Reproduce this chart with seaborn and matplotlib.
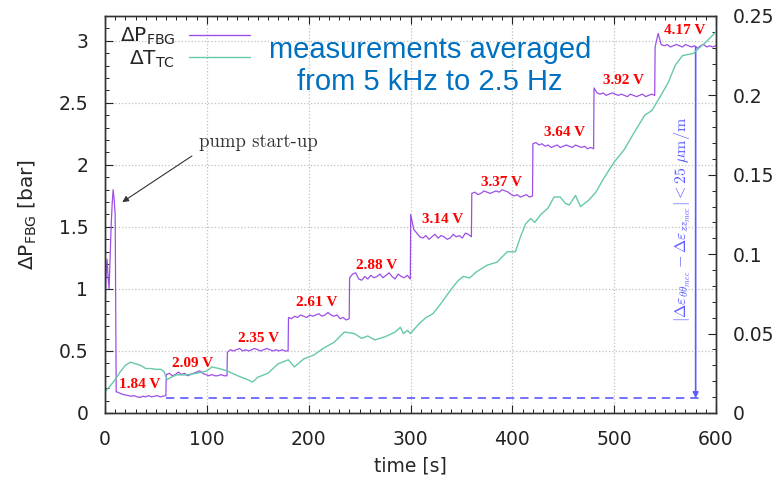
import numpy as np
import pandas as pd
import matplotlib
matplotlib.use('Agg')
import matplotlib.pyplot as plt
import seaborn as sns
from matplotlib.ticker import MultipleLocator

sns.set_style('white')
plt.rcParams['font.family'] = ['DejaVu Sans']

# --- data ---
startup_t = [0, 1, 2, 3, 4, 5, 6, 7, 8, 9, 10, 11]
startup_p = [0.85, 1.1, 1.24, 1.1, 1.0, 1.25, 1.5, 1.68, 1.8, 1.72, 1.6, 0.17]

step_edges = [11.5, 60, 120, 180, 240, 300, 360, 420, 480, 540, 600]
step_volts = ['1.84 V', '2.09 V', '2.35 V', '2.61 V', '2.88 V',
              '3.14 V', '3.37 V', '3.64 V', '3.92 V', '4.17 V']
plateaus = [
    [0.17, 0.16, 0.15, 0.145, 0.14, 0.135, 0.14, 0.13, 0.125, 0.135, 0.13, 0.14, 0.13, 0.135, 0.14, 0.13, 0.135, 0.14],
    [0.31, 0.32, 0.30, 0.31, 0.33, 0.31, 0.32, 0.30, 0.31, 0.32, 0.33, 0.34, 0.32, 0.31, 0.30, 0.31, 0.30, 0.30, 0.31, 0.30, 0.30],
    [0.49, 0.51, 0.50, 0.51, 0.52, 0.50, 0.51, 0.50, 0.51, 0.52, 0.51, 0.50, 0.51, 0.52, 0.51, 0.50, 0.51, 0.50, 0.51, 0.50, 0.50],
    [0.77, 0.76, 0.78, 0.77, 0.79, 0.78, 0.77, 0.79, 0.78, 0.79, 0.80, 0.78, 0.79, 0.81, 0.79, 0.78, 0.79, 0.76, 0.77, 0.75, 0.76],
    [1.09, 1.12, 1.13, 1.08, 1.07, 1.10, 1.08, 1.11, 1.09, 1.10, 1.12, 1.09, 1.11, 1.13, 1.10, 1.08, 1.12, 1.10, 1.09, 1.11, 1.08],
    [1.60, 1.48, 1.45, 1.42, 1.41, 1.43, 1.40, 1.42, 1.44, 1.41, 1.43, 1.42, 1.40, 1.41, 1.44, 1.42, 1.43, 1.41, 1.45, 1.44, 1.42],
    [1.77, 1.78, 1.76, 1.77, 1.79, 1.78, 1.77, 1.78, 1.79, 1.78, 1.80, 1.79, 1.78, 1.76, 1.75, 1.76, 1.74, 1.75, 1.76, 1.74, 1.75],
    [2.17, 2.18, 2.16, 2.17, 2.15, 2.16, 2.14, 2.15, 2.16, 2.14, 2.15, 2.16, 2.15, 2.14, 2.16, 2.15, 2.14, 2.15, 2.13, 2.14, 2.13],
    [2.62, 2.58, 2.57, 2.58, 2.56, 2.57, 2.58, 2.57, 2.56, 2.57, 2.56, 2.55, 2.57, 2.56, 2.55, 2.56, 2.57, 2.55, 2.56, 2.57, 2.56],
    [2.95, 3.06, 2.97, 2.96, 2.97, 2.95, 2.96, 2.97, 2.96, 2.95, 2.97, 2.96, 2.95, 2.96, 2.94, 2.96, 2.97, 2.95, 2.96, 2.95, 2.96],
]
# label positions (time, bar) for each voltage
volt_t = [34, 86, 151, 208, 267, 332, 389, 451, 509, 569]
volt_y = [0.23, 0.40, 0.60, 0.89, 1.19, 1.56, 1.86, 2.26, 2.68, 3.08]

tc_t = [0, 5, 10, 15, 20, 25, 30, 35, 40, 45, 50, 55, 58, 61, 65, 70, 80, 90, 100, 105, 112,
        120, 130, 140, 145, 150, 160, 170, 180, 186, 195, 205, 215, 225, 235, 245, 252, 258,
        265, 275, 285, 290, 293, 297, 300, 308, 315, 322, 330, 340, 347, 352, 358, 365, 375,
        385, 395, 403, 408, 413, 418, 422, 428, 435, 441, 447, 452, 456, 462, 467, 475, 482,
        490, 500, 510, 520, 530, 537, 545, 553, 560, 567, 578, 582, 590, 600]
tc_v = [0.0133, 0.017, 0.021, 0.026, 0.030, 0.032, 0.031, 0.030, 0.028, 0.028, 0.0275, 0.0275,
        0.026, 0.021, 0.0225, 0.024, 0.024, 0.025, 0.0265, 0.029, 0.028, 0.0265, 0.0235, 0.021,
        0.0195, 0.0225, 0.025, 0.031, 0.0335, 0.029, 0.034, 0.0365, 0.041, 0.0445, 0.051, 0.050,
        0.047, 0.0485, 0.046, 0.048, 0.051, 0.054, 0.050, 0.052, 0.050, 0.056, 0.060, 0.0625,
        0.069, 0.078, 0.0835, 0.086, 0.085, 0.089, 0.093, 0.095, 0.1015, 0.1015, 0.111, 0.119,
        0.1225, 0.120, 0.125, 0.129, 0.136, 0.136, 0.132, 0.131, 0.137, 0.130, 0.134, 0.139,
        0.148, 0.158, 0.166, 0.177, 0.1875, 0.1905, 0.199, 0.208, 0.219, 0.225, 0.2265, 0.229,
        0.2335, 0.240]

ref_level = 0.12     # dashed reference line [bar]
arrow_t = 580        # time of the vertical strain arrow

# build the pressure trace
p_t = list(startup_t)
p_v = list(startup_p)
for k, vals in enumerate(plateaus):
    tt = np.linspace(step_edges[k] + 0.2, step_edges[k + 1] - 0.2, len(vals))
    p_t += list(tt)
    p_v += vals
df_p = pd.DataFrame({'time': p_t, 'dp': p_v})
df_tc = pd.DataFrame({'time': tc_t, 'dt': tc_v})

purple = '#9d4ee6'
teal = '#66c9a8'
blue = '#5a5aff'

fig = plt.figure(figsize=(7.76, 4.8), dpi=100)
ax = fig.add_axes([0.1353, 0.1396, 0.7874, 0.8271])
ax2 = ax.twinx()

sns.lineplot(data=df_p, x='time', y='dp', ax=ax, color=purple, lw=0.9, estimator=None, sort=False)
sns.lineplot(data=df_tc, x='time', y='dt', ax=ax2, color=teal, lw=1.0, estimator=None, sort=False)

ax.set_xlim(0, 600)
ax.set_ylim(0, 3.2)
ax2.set_ylim(0, 0.25)

ax.xaxis.set_major_locator(MultipleLocator(100))
ax.xaxis.set_minor_locator(MultipleLocator(10))
ax.yaxis.set_minor_locator(MultipleLocator(0.1))
ax2.yaxis.set_minor_locator(MultipleLocator(0.01))
ax2.set_yticks([0, 0.05, 0.1, 0.15, 0.2, 0.25])
ax2.set_yticklabels(['0', '0.05', '0.1', '0.15', '0.2', '0.25'])
ax.set_yticks([0, 0.5, 1, 1.5, 2, 2.5, 3])
ax.set_yticklabels(['0', '0.5', '1', '1.5', '2', '2.5', '3'])

ax.tick_params(axis='x', which='both', direction='in', top=True, bottom=True, labelsize=13.5, colors='#222222', pad=12)
ax.tick_params(axis='y', which='both', direction='in', left=True, right=False, labelsize=13.5, colors='#222222', pad=12)
ax2.tick_params(axis='y', which='both', direction='in', right=True, labelsize=13.5, colors='#222222', pad=12)
for a in (ax, ax2):
    a.tick_params(which='major', length=6, width=0.8)
    a.tick_params(which='minor', length=3, width=0.7)
    for s in a.spines.values():
        s.set_visible(True)
        s.set_color('#333333')
        s.set_linewidth(1.0)

ax.grid(True, which='major', linestyle=':', color='#c0c0c0', lw=0.9)
ax.set_axisbelow(True)
ax2.grid(False)

ax.set_xlabel('time [s]', fontsize=13.5, labelpad=6)
ax.set_ylabel(r'$\Delta$P$_{\mathregular{FBG}}$ [bar]', fontsize=14.5, labelpad=14)
ax2.set_ylabel('')

# reference line and arrow
ax.hlines(ref_level, step_edges[1], 588, colors=blue, linestyles=(0, (5, 3.5)), lw=1.2)
ax.annotate('', xy=(arrow_t, ref_level), xytext=(arrow_t, plateaus[-1][0]),
            arrowprops=dict(arrowstyle='-|>', color=blue, lw=1.2, mutation_scale=8,
                            shrinkA=0, shrinkB=0))
ax.text(567, 1.56, r'$|\Delta\varepsilon_{\theta\theta_{mec}} - \Delta\varepsilon_{zz_{mec}}| < 25\ \mu\mathrm{m/m}$',
        rotation=90, ha='center', va='center', color=blue, fontsize=11.5, math_fontfamily='cm')

for lbl, tx, ty in zip(step_volts, volt_t, volt_y):
    ax.text(tx, ty, lbl, color='red', fontsize=11, fontweight='bold', family='Liberation Serif',
            ha='center', va='center')

ax.annotate('pump start-up', xy=(17, 1.70), xytext=(92, 2.18), ha='left', va='center',
            fontsize=13.5, family='cmr10', color='#333333',
            arrowprops=dict(arrowstyle='-|>', color='#333333', lw=0.8, mutation_scale=9,
                            relpos=(0, 0), shrinkA=3, shrinkB=0))

ax.text(0.532, 0.874, 'measurements averaged\nfrom 5 kHz to 2.5 Hz', transform=ax.transAxes,
        ha='center', va='center', color='#0070c0', fontsize=21, family='Liberation Sans',
        linespacing=1.15)

h1 = plt.Line2D([], [], color=purple, lw=1.0)
h2 = plt.Line2D([], [], color=teal, lw=1.0)
ax2.legend([h1, h2], [r'$\Delta$P$_{\mathregular{FBG}}$', r'$\Delta$T$_{\mathregular{TC}}$'],
           loc='upper right', bbox_to_anchor=(0.237, 0.975), markerfirst=False, frameon=False,
           fontsize=14.5, handlelength=3.0, handletextpad=0.7, labelspacing=0.05,
           borderpad=0.0, borderaxespad=0.0)

fig.savefig('out.png', dpi=100)
